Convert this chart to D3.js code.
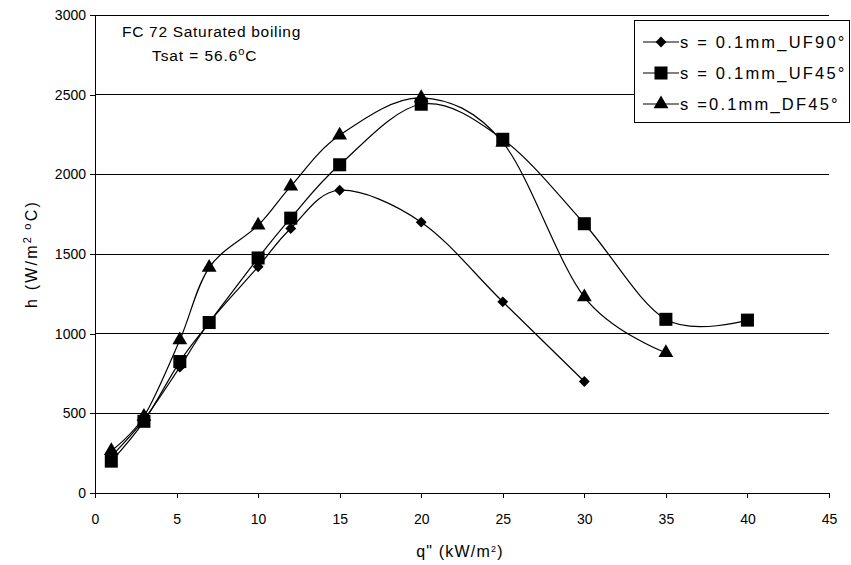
<!DOCTYPE html>
<html>
<head>
<meta charset="utf-8">
<script src="https://cdn.jsdelivr.net/npm/d3@7"></script>
<style>
  body { margin: 0; background: #fff; }
  svg { display: block; font-family: "Liberation Sans", Arial, sans-serif; }
</style>
</head>
<body>
<div id="chart"></div>
<script>
// heat flux q" (kW/m2) at each measured point
const qUF90 = [1, 3, 5.2, 7, 10, 12, 15, 20, 25, 30];
const hUF90 = [230, 460, 790, 1070, 1420, 1660, 1900, 1700, 1200, 700];

const qUF45 = [1, 3, 5.2, 7, 10, 12, 15, 20, 25, 30, 35, 40];
const hUF45 = [200, 450, 825, 1070, 1475, 1725, 2060, 2440, 2220, 1690, 1090, 1085];

const qDF45 = [1, 3, 5.2, 7, 10, 12, 15, 20, 25, 30, 35];
const hDF45 = [265, 480, 960, 1415, 1680, 1925, 2245, 2480, 2200, 1230, 880];

const seriesNames = ["s = 0.1mm_UF90\u00b0", "s = 0.1mm_UF45\u00b0", "s =0.1mm_DF45\u00b0"];
const xTicks = [0, 5, 10, 15, 20, 25, 30, 35, 40, 45];
const yTicks = [0, 500, 1000, 1500, 2000, 2500, 3000];

const W = 851, H = 565;
const mLeft = 95, mRight = 829, mTop = 15, mBottom = 493;

const x = d3.scaleLinear([0, 45], [mLeft, mRight]);
const y = d3.scaleLinear([0, 3000], [mBottom, mTop]);

const svg = d3.select("#chart").append("svg")
    .attr("width", W)
    .attr("height", H);

// gridlines
svg.append("g")
    .selectAll("line")
    .data(yTicks.filter(d => d > 0))
    .join("line")
    .attr("x1", mLeft).attr("x2", mRight)
    .attr("y1", d => y(d)).attr("y2", d => y(d))
    .attr("stroke", "#000")
    .attr("stroke-width", 1)
    .attr("shape-rendering", "crispEdges");

// axes
const xAxis = svg.append("g")
    .attr("transform", `translate(0,${mBottom})`)
    .call(d3.axisBottom(x).tickValues(xTicks).tickFormat(d3.format("d"))
        .tickSize(5).tickSizeOuter(0).tickPadding(16));
const yAxis = svg.append("g")
    .attr("transform", `translate(${mLeft},0)`)
    .call(d3.axisLeft(y).tickValues(yTicks).tickFormat(d3.format("d"))
        .tickSize(5).tickSizeOuter(0).tickPadding(4));

[xAxis, yAxis].forEach(g => {
    g.selectAll("path, line").attr("stroke", "#000").attr("shape-rendering", "crispEdges");
    g.selectAll("text").attr("font-size", 14).attr("fill", "#000")
        .attr("font-family", "Liberation Sans, Arial, sans-serif");
});

// axis titles
const yTitle = svg.append("text")
    .attr("transform", `translate(37,${(mTop + mBottom) / 2}) rotate(-90)`)
    .attr("text-anchor", "middle")
    .attr("font-size", 16)
    .attr("letter-spacing", 2.2);
yTitle.append("tspan").text("h (W/m");
yTitle.append("tspan").attr("baseline-shift", "super").attr("font-size", 11).text("2");
yTitle.append("tspan").attr("baseline-shift", "super").attr("font-size", 11).text(" o");
yTitle.append("tspan").text("C)");

const xTitle = svg.append("text")
    .attr("x", (mLeft + mRight) / 2 - 2)
    .attr("y", 557)
    .attr("text-anchor", "middle")
    .attr("font-size", 16)
    .attr("letter-spacing", 1.2);
xTitle.append("tspan").text("q\" (kW/m");
xTitle.append("tspan").attr("baseline-shift", "super").attr("font-size", 9).text("2");
xTitle.append("tspan").text(")");

// annotation
svg.append("text").attr("x", 122).attr("y", 37).attr("font-size", 15.5)
    .attr("letter-spacing", 0.7)
    .text("FC 72 Saturated boiling");
const tsat = svg.append("text").attr("x", 152).attr("y", 61).attr("font-size", 15.5)
    .attr("letter-spacing", 0.9);
tsat.append("tspan").text("Tsat = 56.6");
tsat.append("tspan").attr("baseline-shift", "super").attr("font-size", 11).text("o");
tsat.append("tspan").text("C");

// series
const series = [
    { name: seriesNames[0], q: qUF90, h: hUF90, symbol: d3.symbolDiamond2, size: 75 },
    { name: seriesNames[1], q: qUF45, h: hUF45, symbol: d3.symbolSquare, size: 170 },
    { name: seriesNames[2], q: qDF45, h: hDF45, symbol: d3.symbolTriangle, size: 95 }
];

const line = d3.line()
    .x(d => x(d[0]))
    .y(d => y(d[1]))
    .curve(d3.curveCardinal.tension(0));

const sg = svg.append("g").selectAll("g").data(series).join("g");
sg.append("path")
    .attr("fill", "none")
    .attr("stroke", "#000")
    .attr("stroke-width", 1.2)
    .attr("d", s => line(s.q.map((q, i) => [q, s.h[i]])));
sg.each(function (s) {
    d3.select(this).selectAll("path.m")
        .data(s.q.map((q, i) => [q, s.h[i]]))
        .join("path")
        .attr("class", "m")
        .attr("transform", d => `translate(${x(d[0])},${y(d[1])})`)
        .attr("d", d3.symbol(s.symbol, s.size))
        .attr("fill", "#000");
});

// legend
const lg = svg.append("g");
lg.append("rect")
    .attr("x", 634.5).attr("y", 20.5)
    .attr("width", 215).attr("height", 102)
    .attr("fill", "#fff").attr("stroke", "#000");
const items = lg.selectAll("g").data(series).join("g")
    .attr("transform", (d, i) => `translate(0,${42 + i * 31})`);
items.append("line")
    .attr("x1", 643).attr("x2", 679)
    .attr("stroke", "#000").attr("stroke-width", 1.2);
items.append("path")
    .attr("transform", "translate(661,0)")
    .attr("d", s => d3.symbol(s.symbol, s.size)())
    .attr("fill", "#000");
items.append("text")
    .attr("x", 680).attr("y", 6)
    .attr("font-size", 16.5)
    .attr("letter-spacing", 2.2)
    .text(d => d.name);
</script>
</body>
</html>
